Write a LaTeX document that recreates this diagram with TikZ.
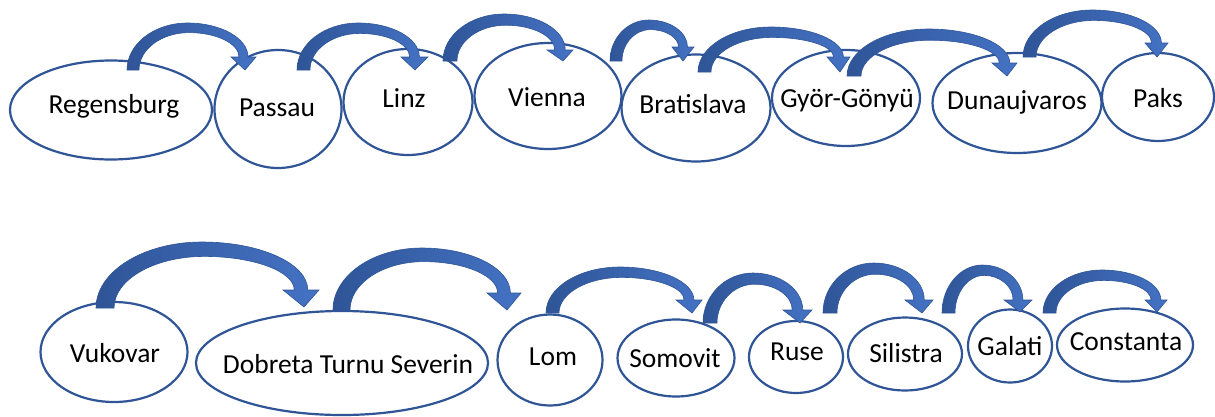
\documentclass[tikz,border=0pt]{standalone}
\usepackage{fontspec}
\setmainfont{Carlito}
\usetikzlibrary{shapes.geometric}
\definecolor{edge}{HTML}{2F5597}
\definecolor{arrD}{HTML}{2F5597}
\definecolor{arrL}{HTML}{4472C4}
\tikzset{
  city/.style={ellipse, draw=edge, line width=2.2pt, fill=white, inner sep=0pt},
  lbl/.style={anchor=base, font=\fontsize{27.5}{30}\selectfont, inner sep=0pt, text=black},
  blockarrow/.style={draw=arrD, line width=0.6pt, left color=arrD, right color=arrL},
}
% block arrow: xL,xR,ybase,ytop,xtip,ytip,ywing,xwingL,xwingR
\newcommand\blockarr[9]{%
  \pgfmathsetmacro\bxL{#1}\pgfmathsetmacro\bxR{#2}%
  \pgfmathsetmacro\byb{#3}\pgfmathsetmacro\byt{#4}%
  \pgfmathsetmacro\bxt{#5}\pgfmathsetmacro\byp{#6}%
  \pgfmathsetmacro\byw{#7}\pgfmathsetmacro\bwl{#8}\pgfmathsetmacro\bwr{#9}%
  \pgfmathsetmacro\bw{\bxR-\bxL}%
  \pgfmathsetmacro\bth{0.8*\bw}%
  \pgfmathsetmacro\bnc{(\bwl+\bwr)/2}%
  \pgfmathsetmacro\bnL{\bnc-0.375*\bw}%
  \pgfmathsetmacro\bnR{\bnc+0.375*\bw}%
  \pgfmathsetmacro\bxm{(\bxL+\bnR)/2}%
  \pgfmathsetmacro\bxmi{(\bxR+\bnL)/2}%
  \pgfmathsetmacro\byti{\byt+\bth}%
  \draw[blockarrow] (\bxL,\byb)
    .. controls (\bxL,{\byb-0.552*(\byb-\byt)}) and ({\bxm-0.552*(\bxm-\bxL)},\byt) .. (\bxm,\byt)
    .. controls ({\bxm+0.552*(\bnR-\bxm)},\byt) and (\bnR,{\byw-0.552*(\byw-\byt)}) .. (\bnR,\byw)
    -- (\bwr,\byw) -- (\bxt,\byp) -- (\bwl,\byw) -- (\bnL,\byw)
    .. controls (\bnL,{\byw-0.552*(\byw-\byti)}) and ({\bxmi+0.552*(\bnL-\bxmi)},\byti) .. (\bxmi,\byti)
    .. controls ({\bxmi-0.552*(\bxmi-\bxR)},\byti) and (\bxR,{\byb-0.552*(\byb-\byti)}) .. (\bxR,\byb)
    -- cycle;
}
\begin{document}
\begin{tikzpicture}[x=1pt,y=-1pt]
\useasboundingbox (0,0) rectangle (1215,416);
\fill[white] (0,0) rectangle (1215,416);
% row 1
\node[city, minimum width=202pt, minimum height=99pt] (reg) at (111,110) {};
\node[city, minimum width=127pt, minimum height=118pt] (pas) at (278,109) {};
\node[city, minimum width=129pt, minimum height=106pt] (lin) at (408,102) {};
\node[city, minimum width=147pt, minimum height=106pt] (vie) at (548,96) {};
\node[city, minimum width=149pt, minimum height=107pt] (bra) at (696,108) {};
\node[city, minimum width=148pt, minimum height=96pt] (gyo) at (846,98) {};
\node[city, minimum width=169pt, minimum height=100pt] (dun) at (1017,103) {};
\node[city, minimum width=112pt, minimum height=88pt] (pak) at (1158,97) {};
\node[lbl] (treg) at (114,113) {Regensburg};
\node[lbl] (tpas) at (277,116) {Passau};
\node[lbl] (tlin) at (404,107) {Linz};
\node[lbl] (tvie) at (547,106) {Vienna};
\node[lbl] (tbra) at (693,113) {Bratislava};
\node[lbl] (tgyo) at (847,107) {Györ-Gönyü};
\node[lbl] (tdun) at (1017,109) {Dunaujvaros};
\node[lbl] (tpak) at (1158,107) {Paks};
% row 2
\node[city, minimum width=147pt, minimum height=100pt] (vuk) at (114,352) {};
\node[city, minimum width=292pt, minimum height=104pt] (dob) at (342,363) {};
\node[city, minimum width=105pt, minimum height=91pt] (lom) at (550,360) {};
\node[city, minimum width=117pt, minimum height=77pt] (som) at (676,358) {};
\node[city, minimum width=94pt, minimum height=72pt] (rus) at (796,357) {};
\node[city, minimum width=114pt, minimum height=73pt] (sil) at (905,354) {};
\node[city, minimum width=84pt, minimum height=73pt] (gal) at (1010,346) {};
\node[city, minimum width=136pt, minimum height=73pt] (con) at (1125,345) {};
\node[lbl] (tvuk) at (115,362) {Vukovar};
\node[lbl] (tdob) at (348,373) {Dobreta Turnu Severin};
\node[lbl] (tlom) at (553,365) {Lom};
\node[lbl] (tsom) at (675,367) {Somovit};
\node[lbl] (trus) at (797,360) {Ruse};
\node[lbl] (tsil) at (906,362) {Silistra};
\node[lbl] (tgal) at (1010,355) {Galati};
\node[lbl] (tcon) at (1126,350) {Constanta};
% arrows row 1
\blockarr{127}{139}{70}{23}{245}{70}{57}{231}{256}
\blockarr{297}{310}{70}{23}{415}{70}{57}{401}{428}
\blockarr{443}{457}{61}{14}{563}{61}{50}{547}{573}
\blockarr{610}{622}{61}{20}{683}{61}{47}{672}{694}
\blockarr{698}{711}{72}{27}{840}{72}{57}{827}{850}
\blockarr{847}{861}{76}{29}{1007}{76}{63}{992}{1017}
\blockarr{1023}{1036}{57}{10}{1157}{57}{43}{1145}{1168}
% arrows row 2
\blockarr{96}{114}{308}{242}{304}{307}{290}{283}{319}
\blockarr{333}{350}{310}{248}{507}{310}{293}{487}{521}
\blockarr{546}{559}{313}{267}{692}{313}{300}{676}{702}
\blockarr{703}{717}{323}{273}{800}{323}{310}{783}{812}
\blockarr{823}{837}{313}{263}{922}{313}{300}{905}{933}
\blockarr{942}{955}{313}{265}{1020}{312}{300}{1004}{1032}
\blockarr{1043}{1056}{313}{270}{1157}{312}{300}{1145}{1167}
\end{tikzpicture}
\end{document}
